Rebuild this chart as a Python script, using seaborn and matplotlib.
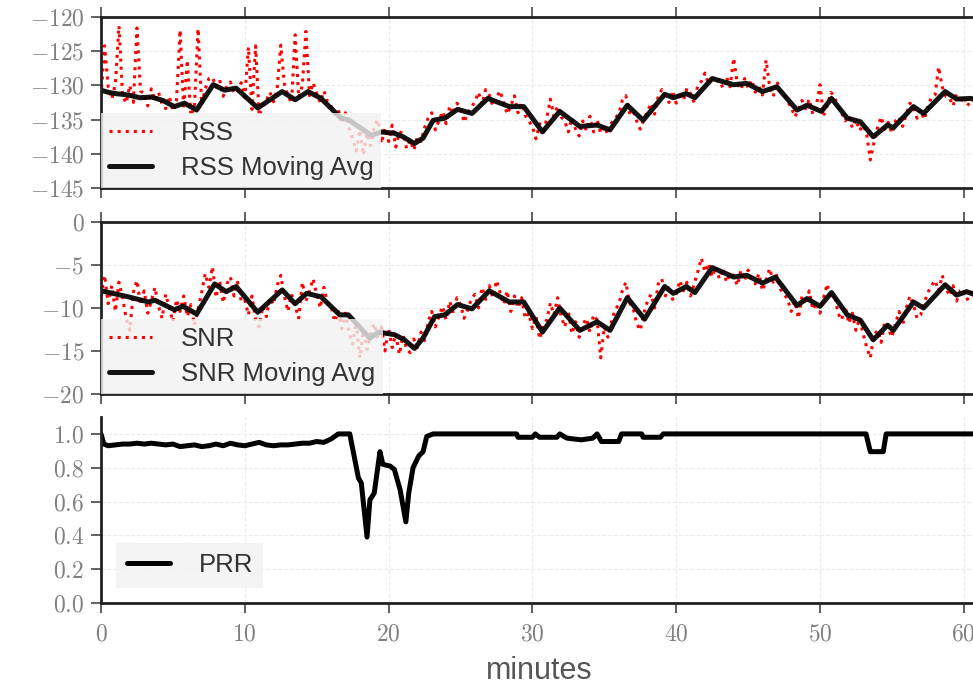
import numpy as np
import pandas as pd
import matplotlib
matplotlib.use("Agg")
import matplotlib.pyplot as plt
import seaborn as sns
from matplotlib.ticker import FuncFormatter

# ---------------- data ----------------
raw_minutes = np.arange(0, 61.01, 0.25)

rss_raw = [
    -131.5, -124.2, -130.2, -132.0,
    -129.8, -121.3, -131.5, -132.6,
    -130.0, -132.5, -121.6, -130.8,
    -131.2, -133.0, -130.5, -132.2,
    -131.0, -132.8, -133.4, -131.6,
    -133.8, -132.2, -121.9, -133.5,
    -126.3, -134.5, -133.0, -121.7,
    -132.8, -130.5, -129.0, -128.8,
    -130.2, -129.2, -131.6, -130.0,
    -129.5, -131.2, -130.8, -129.6,
    -131.8, -124.4, -133.5, -124.2,
    -134.5, -133.0, -132.2, -131.0,
    -132.4, -130.5, -124.1, -129.8,
    -131.5, -132.6, -122.6, -131.8,
    -130.0, -122.1, -131.5, -129.6,
    -131.2, -132.5, -130.8, -132.4,
    -133.0, -134.2, -133.5, -135.6,
    -134.0, -136.2, -137.8, -139.6,
    -136.5, -140.2, -137.0, -138.8,
    -136.0, -135.0, -138.5, -136.2,
    -138.2, -135.8, -139.0, -136.8,
    -137.0, -139.2, -138.0, -139.5,
    -137.5, -138.2, -136.2, -134.8,
    -134.0, -136.5, -135.2, -133.8,
    -135.6, -133.0, -134.2, -132.6,
    -133.2, -135.4, -134.0, -133.2,
    -132.4, -131.0, -132.8, -130.6,
    -131.4, -133.0, -131.8, -130.8,
    -132.5, -134.2, -133.0, -131.5,
    -134.0, -132.6, -134.4, -135.2,
    -136.0, -137.8, -135.6, -137.2,
    -134.8, -132.0, -134.5, -133.0,
    -134.6, -135.2, -136.8, -134.8,
    -136.4, -137.4, -135.2, -136.6,
    -134.5, -136.8, -135.0, -137.0,
    -136.0, -137.2, -135.5, -134.8,
    -134.2, -132.2, -131.5, -134.0,
    -133.6, -135.2, -136.4, -135.0,
    -133.8, -132.6, -134.2, -131.6,
    -130.6, -131.6, -132.5, -130.8,
    -132.6, -131.0, -132.2, -130.4,
    -131.2, -132.5, -130.0, -129.4,
    -128.2, -129.8, -128.6, -129.6,
    -129.2, -130.4, -128.8, -130.2,
    -126.0, -129.8, -130.6, -129.0,
    -130.4, -129.2, -131.0, -130.2,
    -131.4, -126.3, -130.2, -131.6,
    -129.4, -130.8, -131.2, -132.4,
    -133.2, -134.6, -133.6, -132.2,
    -133.4, -132.0, -134.2, -133.0,
    -129.9, -134.4, -133.0, -131.0,
    -131.6, -133.2, -134.0, -135.2,
    -134.4, -136.2, -135.0, -136.6,
    -135.8, -137.2, -140.9, -138.4,
    -136.2, -134.6, -136.4, -135.4,
    -137.0, -135.2, -134.6, -136.0,
    -134.2, -132.6, -133.0, -134.8,
    -133.6, -135.0, -133.0, -131.8,
    -131.4, -127.3, -130.2, -131.6,
    -131.8, -133.0, -131.2, -132.6,
    -131.6, -133.0, -132.2, -131.8,
    -132.4,
]

snr_raw = [
    -8.6, -6.2, -9.5, -7.4,
    -10.4, -7.0, -8.8, -11.2,
    -12.6, -8.2, -6.8, -9.6,
    -8.0, -10.6, -9.2, -7.6,
    -9.8, -11.2, -8.4, -10.0,
    -11.6, -9.0, -10.4, -8.6,
    -11.0, -9.6, -12.0, -10.2,
    -8.2, -6.0, -7.6, -5.2,
    -8.8, -6.8, -9.4, -7.2,
    -6.4, -8.6, -7.0, -9.2,
    -9.0, -10.8, -8.6, -11.4,
    -12.2, -9.8, -11.0, -8.8,
    -9.6, -7.4, -6.2, -8.6,
    -10.4, -8.4, -9.8, -11.2,
    -7.0, -9.2, -8.0, -6.6,
    -8.4, -10.0, -7.6, -9.4,
    -9.8, -11.6, -10.4, -12.4,
    -10.6, -12.8, -14.2, -11.6,
    -15.8, -12.6, -14.8, -13.0,
    -11.8, -13.6, -12.2, -15.0,
    -12.4, -14.6, -13.0, -15.4,
    -13.2, -14.8, -15.2, -13.6,
    -14.6, -12.8, -13.8, -11.6,
    -10.4, -12.2, -11.0, -9.8,
    -11.4, -9.2, -10.6, -8.8,
    -9.6, -11.2, -10.2, -9.0,
    -8.4, -10.0, -7.6, -9.0,
    -7.4, -8.8, -6.8, -8.2,
    -9.6, -8.0, -10.4, -8.6,
    -10.0, -8.8, -11.2, -10.6,
    -12.4, -11.0, -13.6, -12.0,
    -11.4, -9.4, -10.8, -8.8,
    -11.0, -12.2, -10.4, -13.0,
    -11.6, -13.4, -12.0, -11.2,
    -12.8, -10.8, -11.4, -15.8,
    -12.2, -13.4, -11.6, -10.2,
    -9.6, -8.0, -7.0, -9.4,
    -10.0, -11.8, -12.6, -10.6,
    -9.2, -8.4, -10.0, -7.2,
    -6.6, -8.6, -7.4, -9.0,
    -8.4, -6.8, -8.0, -7.0,
    -8.6, -7.2, -5.8, -4.2,
    -5.8, -4.8, -6.4, -5.2,
    -6.6, -5.4, -7.0, -6.0,
    -6.2, -7.4, -5.6, -6.8,
    -5.6, -6.6, -7.2, -6.0,
    -8.0, -6.8, -5.4, -7.0,
    -6.2, -7.8, -8.4, -9.0,
    -10.4, -9.2, -11.2, -8.6,
    -9.6, -8.0, -10.2, -9.4,
    -10.6, -8.8, -7.2, -9.0,
    -8.4, -10.6, -11.4, -9.8,
    -11.8, -10.6, -12.6, -11.2,
    -13.0, -14.6, -15.8, -13.2,
    -12.6, -14.0, -11.6, -12.4,
    -13.4, -11.8, -10.4, -12.0,
    -10.0, -8.6, -9.6, -11.2,
    -10.8, -9.4, -8.2, -7.4,
    -6.8, -8.0, -6.2, -7.6,
    -8.6, -7.4, -9.2, -8.0,
    -7.8, -9.0, -8.2, -7.6,
    -8.6,
]

rss_ma_minutes = [0.0, 0.5, 1.0, 1.9, 2.7, 3.5, 4.3, 5.1, 5.8, 6.65, 7.8, 8.6, 9.4,
                  10.9, 12.6, 13.5, 14.4, 15.3, 16.7, 17.2, 18.8, 19.5, 20.4, 21.0,
                  21.8, 22.4, 23.1, 23.9, 24.8, 25.8, 26.9, 28.4, 29.4, 30.7, 31.9,
                  33.3, 34.5, 35.4, 36.6, 37.7, 39.2, 39.8, 40.7, 41.3, 42.5, 44.0,
                  44.9, 46.0, 47.0, 48.4, 49.1, 50.1, 50.8, 51.9, 52.8, 53.7, 54.7,
                  55.1, 56.5, 57.2, 58.7, 59.5, 60.5, 61.0]
rss_ma = [-130.7, -131.0, -131.2, -131.4, -131.8, -131.7, -132.2, -133.1, -132.6,
          -133.6, -129.9, -130.7, -130.4, -133.3, -130.9, -132.1, -130.9, -131.9,
          -134.8, -135.0, -137.3, -136.8, -137.0, -137.5, -138.5, -137.7, -135.1,
          -134.8, -133.5, -134.1, -131.9, -133.1, -133.1, -136.8, -133.8, -136.0,
          -135.8, -136.5, -132.9, -135.1, -131.3, -131.8, -131.2, -131.8, -129.0,
          -129.9, -129.7, -130.9, -130.2, -133.6, -132.9, -133.8, -131.9, -134.8,
          -135.3, -137.5, -135.8, -136.2, -133.1, -134.1, -130.9, -132.0, -131.9,
          -132.3]

snr_ma_minutes = [0.0, 1.9, 3.3, 3.75, 5.1, 5.7, 6.65, 7.9, 8.7, 9.4, 10.9, 12.6,
                  13.5, 14.3, 15.3, 16.6, 17.2, 18.7, 19.3, 20.4, 21.1, 21.8, 22.4,
                  23.2, 23.9, 24.8, 25.8, 27.0, 28.4, 29.4, 30.7, 31.9, 33.3, 34.5,
                  35.4, 36.6, 37.8, 39.2, 39.8, 40.7, 41.3, 42.5, 44.0, 44.9, 46.0,
                  46.9, 48.4, 49.1, 50.0, 50.8, 51.9, 52.8, 53.7, 54.7, 55.1, 56.5,
                  57.2, 58.7, 59.5, 60.2, 61.0]
snr_ma = [-8.0, -8.7, -9.3, -9.1, -10.2, -9.8, -10.7, -7.2, -8.1, -7.5, -10.5, -7.9,
          -9.5, -8.3, -8.7, -10.8, -10.8, -13.5, -12.8, -13.1, -13.7, -14.7, -13.5,
          -11.0, -10.8, -9.6, -10.1, -8.0, -9.3, -9.3, -12.8, -10.0, -12.6, -11.6,
          -12.6, -8.8, -11.3, -7.5, -8.3, -7.5, -8.2, -5.3, -6.4, -6.2, -7.1,
          -6.4, -9.7, -8.9, -9.8, -8.2, -10.8, -11.4, -13.7, -12.0, -12.6, -9.3,
          -10.0, -7.3, -8.5, -8.1, -8.6]

prr_minutes = [0.0, 0.2, 0.5, 1.0, 1.5, 2.0, 2.5, 3.0, 3.5, 4.0, 4.5, 5.0, 5.5, 6.0,
               6.5, 7.0, 7.5, 8.0, 8.5, 9.0, 9.5, 10.0, 10.5, 11.0, 11.5, 12.0, 12.5,
               13.0, 13.5, 14.0, 14.5, 15.0, 15.5, 16.0, 16.5, 17.3, 17.9, 18.1,
               18.5, 18.7, 19.0, 19.4, 19.6, 20.1, 20.4, 20.8, 21.2, 21.4, 21.7,
               22.1, 22.4, 22.65, 23.1, 28.9, 29.0, 30.0, 30.2, 30.5, 31.7, 31.9,
               32.4, 33.4, 34.2, 34.5, 34.8, 36.0, 36.2, 37.6, 37.7, 38.9, 39.1,
               53.2, 53.5, 54.4, 54.6, 61.0]
prr = [1.0, 0.94, 0.93, 0.935, 0.94, 0.94, 0.945, 0.94, 0.945, 0.94, 0.935, 0.94,
       0.925, 0.93, 0.935, 0.925, 0.93, 0.94, 0.93, 0.945, 0.935, 0.93, 0.94, 0.95,
       0.935, 0.93, 0.935, 0.935, 0.94, 0.945, 0.945, 0.955, 0.95, 0.97, 1.0, 1.0,
       0.74, 0.71, 0.39, 0.61, 0.65, 0.895, 0.82, 0.81, 0.79, 0.67, 0.48, 0.65,
       0.80, 0.87, 0.895, 0.985, 1.0, 1.0, 0.98, 0.98, 1.0, 0.98, 0.98, 1.0,
       0.975, 0.965, 0.975, 1.0, 0.955, 0.955, 1.0, 1.0, 0.98, 0.98, 1.0,
       1.0, 0.895, 0.895, 1.0, 1.0]

rss_ticks = [-145, -140, -135, -130, -125, -120]
snr_ticks = [-20, -15, -10, -5, 0]
prr_ticks = [0.0, 0.2, 0.4, 0.6, 0.8, 1.0]
minute_ticks = [0, 10, 20, 30, 40, 50, 60]

# ---------------- style ----------------
sns.set_style("ticks")
plt.rcParams['font.family'] = ['Liberation Sans', 'DejaVu Sans']
plt.rcParams['mathtext.fontset'] = 'cm'

fig = plt.figure(figsize=(9.73, 6.86), dpi=100)
L = 101 / 973
W = 61 * 14.38 / 973
ax1 = fig.add_axes([L, 1 - 188 / 686, W, 171 / 686])
ax2 = fig.add_axes([L, 1 - 394 / 686, W, 172 / 686])
ax3 = fig.add_axes([L, 1 - 603 / 686, W, 186 / 686])

raw_kw = dict(color='red', linestyle=':', linewidth=2.2, estimator=None, errorbar=None)
ma_kw = dict(color='black', linewidth=3.6, estimator=None, errorbar=None, alpha=0.92)

sns.lineplot(x=raw_minutes, y=rss_raw, ax=ax1, label='RSS', **raw_kw)
sns.lineplot(x=rss_ma_minutes, y=rss_ma, ax=ax1, label='RSS Moving Avg', **ma_kw)
sns.lineplot(x=raw_minutes, y=snr_raw, ax=ax2, label='SNR', **raw_kw)
sns.lineplot(x=snr_ma_minutes, y=snr_ma, ax=ax2, label='SNR Moving Avg', **ma_kw)
sns.lineplot(x=prr_minutes, y=prr, ax=ax3, label='PRR', color='black', linewidth=3.6,
             estimator=None, errorbar=None)

int_fmt = FuncFormatter(lambda v, p: r"$%d$" % round(v))
dec_fmt = FuncFormatter(lambda v, p: r"$%.1f$" % v)

for ax in (ax1, ax2, ax3):
    ax.set_xlim(0, 61)
    ax.set_xticks(minute_ticks)
    ax.xaxis.set_major_formatter(int_fmt)
    ax.grid(True, color='#ebebeb', linestyle='--', linewidth=0.8)
    ax.set_axisbelow(True)
    for s in ax.spines.values():
        s.set_linewidth(2.0)
        s.set_color('#222222')
    ax.tick_params(axis='both', direction='out', length=7, width=1.3, color='#555555',
                   labelsize=17, labelcolor='#808080', pad=5)
    ax.tick_params(axis='x', top=True, bottom=True, labelbottom=False)
    ax.set_xlabel('')
    ax.set_ylabel('')

ax1.set_ylim(-145, -120)
ax1.set_yticks(rss_ticks)
ax1.yaxis.set_major_formatter(int_fmt)
ax2.set_ylim(-20, 0)
ax2.set_yticks(snr_ticks)
ax2.yaxis.set_major_formatter(int_fmt)
ax3.set_ylim(0, 1.1)
ax3.set_yticks(prr_ticks)
ax3.yaxis.set_major_formatter(dec_fmt)
ax3.spines['top'].set_visible(False)
ax3.tick_params(axis='x', top=False, labelbottom=True, pad=8)
ax3.set_xlabel('minutes', fontsize=22, color='#555555', labelpad=7)

leg_kw = dict(fontsize=18.5, frameon=True, facecolor='#f2f2f2', edgecolor='none',
              framealpha=0.8, handlelength=1.7, handletextpad=1.1, labelcolor='#333333',
              fancybox=False)
ax1.legend(loc='lower left', borderaxespad=0.0, borderpad=0.3, labelspacing=0.45, **leg_kw)
ax2.legend(loc='lower left', borderaxespad=0.0, borderpad=0.3, labelspacing=0.45, **leg_kw)
ax3.legend(loc='lower left', borderaxespad=0.6, borderpad=0.4, **leg_kw)

fig.savefig('out.png', dpi=100)
